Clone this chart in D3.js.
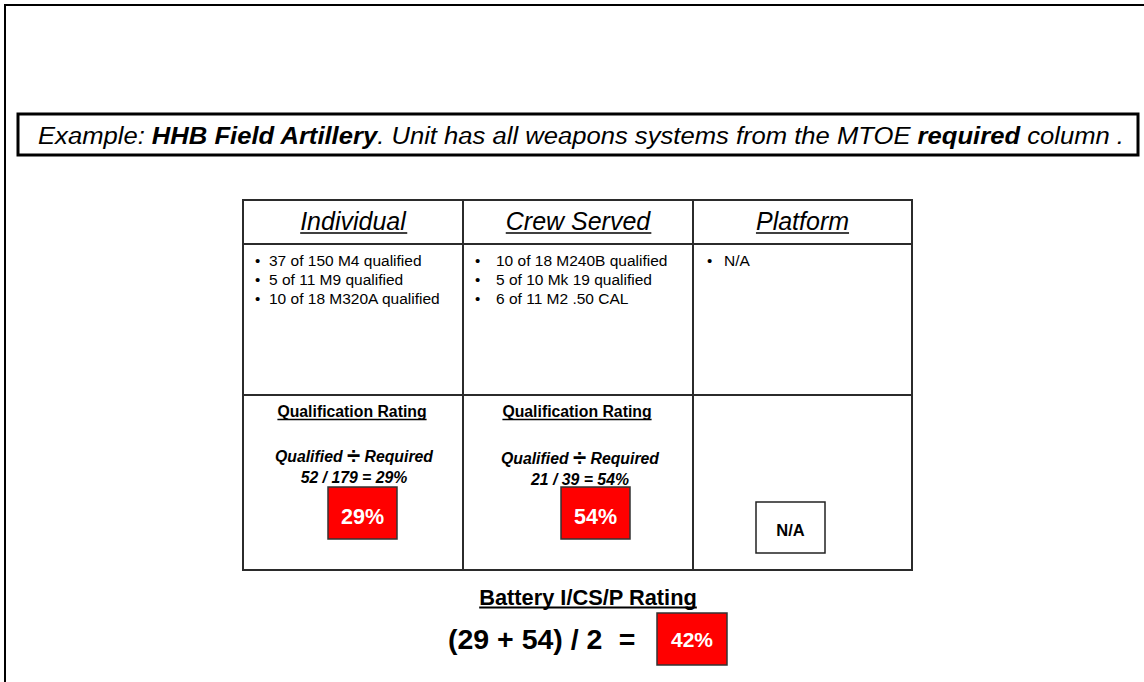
<!DOCTYPE html>
<html><head><meta charset="utf-8">
<script src="https://cdn.jsdelivr.net/npm/d3@7"></script>
<style>html,body{margin:0;padding:0;background:#fff;}svg{display:block;font-family:"Liberation Sans",Arial,sans-serif;}</style>
</head><body>
<svg id="c" width="1144" height="682"></svg>
<script>
// ---- data ----
const categories = ["Individual", "Crew Served", "Platform"];
const individualItems = ["37 of 150 M4 qualified", "5 of 11 M9 qualified", "10 of 18 M320A qualified"];
const crewItems = ["10 of 18 M240B qualified", "5 of 10 Mk 19 qualified", "6 of 11 M2 .50 CAL"];
const platformItems = ["N/A"];
const qualified = [52, 21, null];
const required = [179, 39, null];
const ratings = [29, 54, null];
const batteryRating = 42;
const titleParts = [
  {t: "Example: ", b: false},
  {t: "HHB Field Artillery", b: true},
  {t: ". Unit has all weapons systems from the MTOE ", b: false},
  {t: "required", b: true},
  {t: " column .", b: false}
];

const items = [individualItems, crewItems, platformItems];
const svg = d3.select("#c");

// outer frame
svg.append("path").attr("d", "M5,682V5H1144").attr("fill", "none").attr("stroke", "#000").attr("stroke-width", 2);

// title box
svg.append("rect").attr("x", 18).attr("y", 114).attr("width", 1120).attr("height", 41)
  .attr("fill", "#fff").attr("stroke", "#000").attr("stroke-width", 3);
const title = svg.append("text").attr("x", 38).attr("y", 144)
  .attr("font-size", 23).attr("font-style", "italic").attr("fill", "#000").attr("xml:space", "preserve")
  .attr("textLength", 1086).attr("lengthAdjust", "spacingAndGlyphs");
title.selectAll("tspan").data(titleParts).join("tspan")
  .attr("font-weight", d => d.b ? "bold" : "normal").text(d => d.t);

// table
const colEdges = [243, 463, 693, 912];
const x = d3.scaleOrdinal().domain(categories).range([0, 1, 2]);
const colL = c => colEdges[x(c)], colR = c => colEdges[x(c) + 1], colC = c => (colL(c) + colR(c)) / 2;
const rowY = [200, 244, 395, 570];
const lineCol = "#2b2b2b";
svg.append("rect").attr("x", colEdges[0]).attr("y", rowY[0]).attr("width", colEdges[3] - colEdges[0])
  .attr("height", rowY[3] - rowY[0]).attr("fill", "#fff").attr("stroke", lineCol).attr("stroke-width", 2);
[1, 2].forEach(i => svg.append("line").attr("x1", colEdges[i]).attr("x2", colEdges[i]).attr("y1", rowY[0]).attr("y2", rowY[3]).attr("stroke", lineCol).attr("stroke-width", 2));
[1, 2].forEach(i => svg.append("line").attr("x1", colEdges[0]).attr("x2", colEdges[3]).attr("y1", rowY[i]).attr("y2", rowY[i]).attr("stroke", lineCol).attr("stroke-width", 2));

function underline(sel, dy, w) {
  sel.each(function() {
    const bb = this.getBBox();
    const y = +d3.select(this).attr("y") + dy;
    svg.append("line").attr("x1", bb.x).attr("x2", bb.x + bb.width).attr("y1", y).attr("y2", y)
      .attr("stroke", "#000").attr("stroke-width", w);
  });
}

// headers
const hdr = svg.selectAll("text.hdr").data(categories).join("text").attr("class", "hdr")
  .attr("x", d => colC(d)).attr("y", 230).attr("text-anchor", "middle")
  .attr("font-size", 25).attr("font-style", "italic").attr("fill", "#000").text(d => d);
underline(hdr, 3, 1.6);

// bullets
const bulletOffsets = [[12, 26], [12, 33], [14, 31]];
categories.forEach((c, ci) => {
  const g = svg.append("g");
  items[ci].forEach((t, i) => {
    const y = 266 + i * 19;
    g.append("text").attr("x", colL(c) + bulletOffsets[ci][0]).attr("y", y).attr("font-size", 15).attr("fill", "#000").text("•");
    g.append("text").attr("x", colL(c) + bulletOffsets[ci][1]).attr("y", y).attr("font-size", 15.5).attr("fill", "#000").text(t);
  });
});

// qualification ratings
const qCats = categories.filter((c, i) => ratings[i] != null);
const qr = svg.selectAll("text.qr").data(qCats).join("text").attr("class", "qr")
  .attr("x", d => colC(d) - 1).attr("y", 416.5).attr("text-anchor", "middle")
  .attr("font-size", 15.8).attr("font-weight", "bold").attr("fill", "#000").text("Qualification Rating");
underline(qr, 3, 1.4);

const yShift = [0, 2];
qCats.forEach((c, i) => {
  const ci = categories.indexOf(c);
  const cx = colC(c) + (ci === 0 ? 1 : 2);
  const f = svg.append("text").attr("x", cx).attr("y", 461.5 + yShift[ci]).attr("text-anchor", "middle")
    .attr("font-size", 15.8).attr("font-weight", "bold").attr("font-style", "italic").attr("fill", "#000");
  f.append("tspan").text("Qualified ");
  f.append("tspan").attr("font-size", 24).attr("font-style", "normal").attr("dy", 2).text("÷");
  f.append("tspan").attr("dy", -2).text(" Required");
  svg.append("text").attr("x", cx).attr("y", 483 + yShift[ci]).attr("text-anchor", "middle")
    .attr("font-size", 15.8).attr("font-weight", "bold").attr("font-style", "italic").attr("fill", "#000")
    .text(`${qualified[ci]} / ${required[ci]} = ${ratings[ci]}%`);
  const bx = ci === 0 ? 328 : 561;
  svg.append("rect").attr("x", bx).attr("y", 487).attr("width", 69).attr("height", 52)
    .attr("fill", "#ff0000").attr("stroke", "#333").attr("stroke-width", 1.5);
  svg.append("text").attr("x", bx + 34.5).attr("y", 523.5).attr("text-anchor", "middle")
    .attr("font-size", 21.5).attr("font-weight", "bold").attr("fill", "#fff").text(`${ratings[ci]}%`);
});

// platform N/A box
svg.append("rect").attr("x", 756).attr("y", 502).attr("width", 69).attr("height", 51)
  .attr("fill", "#fff").attr("stroke", "#222").attr("stroke-width", 1.5);
svg.append("text").attr("x", 790.5).attr("y", 535.5).attr("text-anchor", "middle")
  .attr("font-size", 16.5).attr("font-weight", "bold").attr("fill", "#000").text("N/A");

// battery rating
const bt = svg.append("text").attr("x", 588).attr("y", 605).attr("text-anchor", "middle")
  .attr("font-size", 21.8).attr("font-weight", "bold").attr("fill", "#000").text("Battery I/CS/P Rating");
underline(bt, 2.5, 1.8);
svg.append("text").attr("x", 448).attr("y", 649).attr("font-size", 28.5).attr("font-weight", "bold").attr("fill", "#000")
  .text(`(${ratings[0]} + ${ratings[1]}) / 2`);
svg.append("text").attr("x", 627).attr("y", 649).attr("text-anchor", "middle").attr("font-size", 28.5).attr("font-weight", "bold").attr("fill", "#000").text("=");
svg.append("rect").attr("x", 657).attr("y", 613).attr("width", 70).attr("height", 52)
  .attr("fill", "#ff0000").attr("stroke", "#333").attr("stroke-width", 1.5);
svg.append("text").attr("x", 692).attr("y", 647).attr("text-anchor", "middle")
  .attr("font-size", 21).attr("font-weight", "bold").attr("fill", "#fff").text(`${batteryRating}%`);
</script>
</body></html>
